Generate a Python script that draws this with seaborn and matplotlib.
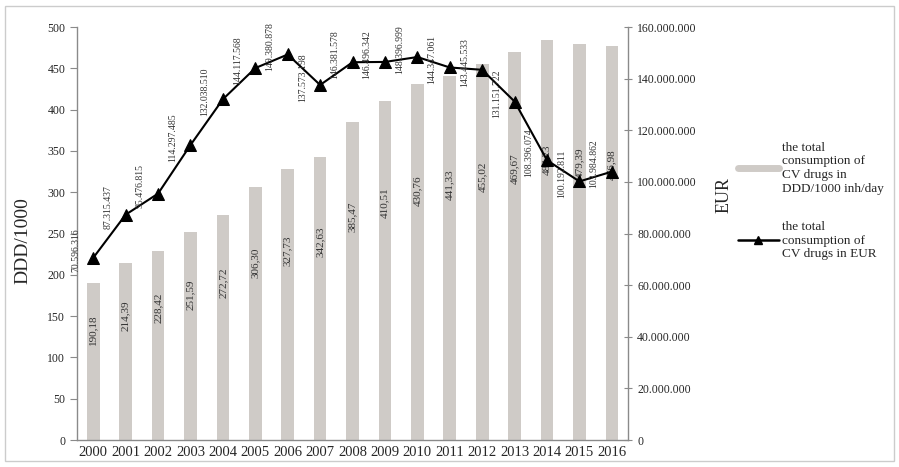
import matplotlib
matplotlib.use("Agg")
import matplotlib.pyplot as plt
from matplotlib.lines import Line2D
from matplotlib.patches import Rectangle
import seaborn as sns
import pandas as pd

years = [str(y) for y in range(2000, 2017)]
ddd = [190.18, 214.39, 228.42, 251.59, 272.72, 306.30, 327.73, 342.63, 385.47,
       410.51, 430.76, 441.33, 455.02, 469.67, 484.23, 479.39, 476.98]
eur = [70596316, 87315437, 95476815, 114297485, 132038510, 144117568, 149380878,
       137573198, 146381578, 146496342, 148396999, 144347061, 143445533,
       131151722, 108396074, 100192811, 103984862]
ddd_labels = ["190,18", "214,39", "228,42", "251,59", "272,72", "306,30", "327,73",
              "342,63", "385,47", "410,51", "430,76", "441,33", "455,02", "469,67",
              "484,23", "479,39", "476,98"]
eur_labels = ["70.596.316", "87.315.437", "95.476.815", "114.297.485", "132.038.510",
              "144.117.568", "149.380.878", "137.573.198", "146.381.578", "146.496.342",
              "148.396.999", "144.347.061", "143.445.533", "131.151.722", "108.396.074",
              "100.192.811", "103.984.862"]

df = pd.DataFrame({"year": years, "ddd": ddd, "eur": eur})

sns.set_style("white")
plt.rcParams["font.family"] = ["Liberation Serif", "DejaVu Serif"]

bar_col = "#cfcbc7"
grey = "#8a8a8a"

fig = plt.figure(figsize=(8.99, 4.67), dpi=100)
ax = fig.add_axes([0.0857, 0.0578, 0.6129, 0.8842])
sns.barplot(data=df, x="year", y="ddd", color=bar_col, width=0.39, saturation=1,
            edgecolor="none", ax=ax)

# rotated values inside bars
for i, v in enumerate(ddd):
    ax.text(i, v * 0.7, ddd_labels[i], rotation=90, ha="center", va="center",
            fontsize=8, color="#333333")

ax.set_ylim(0, 500)
ax.set_yticks(range(0, 501, 50))
ax.set_xlim(-0.5, 16.5)
ax.set_xticks([i - 0.5 for i in range(18)], minor=True)
ax.tick_params(axis="x", which="major", length=0, labelsize=10.5, pad=4)
ax.tick_params(axis="x", which="minor", length=6, direction="inout", color=grey)
ax.tick_params(axis="y", length=5, direction="out", color=grey, labelsize=8.5,
               left=True)
ax.set_xlabel("")
ax.set_ylabel("DDD/1000", fontsize=14)
ax.yaxis.set_label_coords(-0.082, 0.484)

ax2 = ax.twinx()
sns.lineplot(x=list(range(len(years))), y=eur, color="black", lw=1.5, marker="^",
             markersize=9, markeredgecolor="black", ax=ax2)
for i, v in enumerate(eur):
    ax2.text(i - 0.55, v + 3e6, eur_labels[i], rotation=90, ha="center",
             va="center", fontsize=7, color="#333333")
ax2.set_ylim(0, 160e6)
ax2.set_yticks(range(0, 160000001, 20000000))
ax2.set_yticklabels(["0"] + ["{:,}".format(t).replace(",", ".")
                             for t in range(20000000, 160000001, 20000000)])
ax2.tick_params(axis="y", length=6, direction="inout", color=grey, labelsize=8.5,
                right=True)
ax2.set_ylabel("EUR", fontsize=13)
ax2.yaxis.set_label_coords(1.158, 0.593)
ax2.set_xlim(-0.5, 16.5)

for a in (ax, ax2):
    a.spines["top"].set_visible(False)
    for s in ("left", "right", "bottom"):
        a.spines[s].set_color(grey)
        a.spines[s].set_linewidth(1.0)
ax.spines["right"].set_visible(False)
ax2.spines["left"].set_visible(False)
ax2.spines["bottom"].set_visible(False)

handles = [Line2D([0], [0], color=bar_col, lw=5),
           Line2D([0], [0], color="black", lw=1.8, marker="^", markersize=6)]
names = ["the total\nconsumption of\nCV drugs in\nDDD/1000 inh/day",
         "the total\nconsumption of\nCV drugs in EUR"]
fig.legend(handles, names, loc="upper left", bbox_to_anchor=(0.815, 0.708),
           frameon=False, fontsize=9.5, handlelength=3.1, labelspacing=1.95,
           handletextpad=0.2, borderaxespad=0)

fig.patches.append(Rectangle((0.006, 0.012), 0.988, 0.976, transform=fig.transFigure,
                             fill=False, edgecolor="#cccccc", lw=1))

fig.savefig("out.png", dpi=100)
